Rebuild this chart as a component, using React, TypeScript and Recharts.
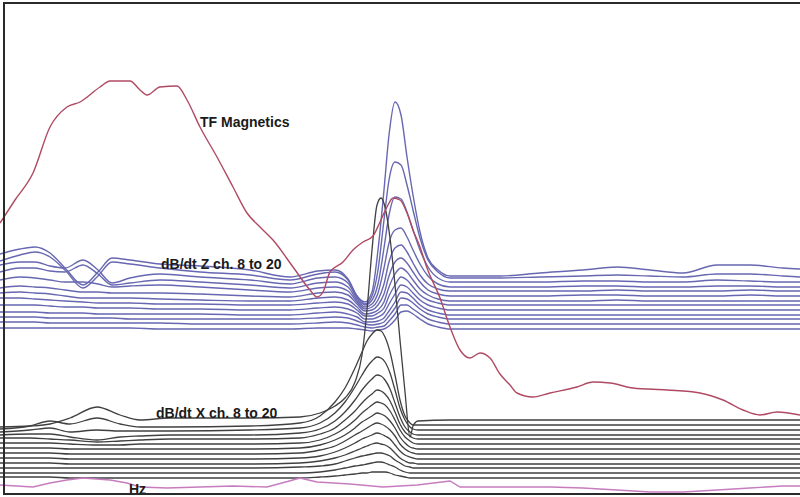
import React from "react";
import { LineChart, Line, XAxis, YAxis } from "recharts";

// profile stations (along-line position) used by the dB/dt Z channels
const zStations = [0, 20, 35, 50, 65, 83, 98, 112, 130, 160, 200, 250, 290, 318, 335, 348, 357, 365, 372, 378, 384, 389, 395, 401, 407, 413, 420, 428, 438, 450, 500, 540, 583, 617, 650, 683, 717, 750, 783, 800];

// dB/dt Z, channels 8 to 20 (stacked, display offset included)
const zCh8 = [243, 248, 250, 244, 229, 212, 225, 239, 237, 233, 231, 227, 220, 226, 227, 218, 201, 195, 205, 247, 307, 362, 395, 382, 340, 302, 265, 239, 227, 221, 221, 224, 227, 230, 227, 224, 232, 232, 229, 228];
const zCh9 = [236, 242, 245, 240, 227, 209, 221, 235, 233, 229, 225, 222, 217, 223, 225, 217, 201, 193, 201, 227, 277, 317, 335, 332, 312, 287, 259, 237, 225, 219, 219, 220, 221, 222, 221, 220, 223, 223, 221, 220];
const zCh10 = [232, 235, 235, 231, 229, 237, 227, 214, 219, 223, 220, 217, 213, 219, 220, 214, 199, 192, 197, 213, 249, 282, 300, 298, 285, 267, 247, 230, 219, 215, 215, 215, 216, 216, 215, 215, 217, 216, 215, 215];
const zCh11 = [225, 229, 229, 226, 225, 232, 223, 212, 214, 217, 215, 212, 209, 214, 215, 210, 197, 190, 193, 204, 229, 254, 267, 269, 260, 247, 233, 221, 213, 210, 210, 210, 211, 211, 210, 210, 211, 211, 210, 210];
const zCh12 = [217, 220, 219, 217, 215, 215, 213, 210, 211, 212, 210, 207, 205, 209, 210, 206, 195, 188, 190, 197, 213, 235, 249, 252, 245, 234, 222, 213, 208, 206, 206, 206, 206, 207, 206, 206, 206, 207, 206, 206];
const zCh13 = [209, 211, 210, 209, 207, 205, 205, 204, 204, 204, 203, 201, 200, 204, 205, 202, 193, 186, 187, 192, 203, 221, 235, 239, 234, 225, 215, 207, 203, 201, 201, 201, 202, 202, 201, 201, 201, 202, 201, 201];
const zCh14 = [204, 205, 204, 203, 201, 199, 199, 199, 199, 198, 197, 196, 196, 199, 200, 197, 190, 183, 184, 187, 195, 210, 223, 229, 225, 217, 208, 202, 198, 196, 196, 196, 196, 197, 196, 196, 196, 196, 196, 196];
const zCh15 = [199, 199, 198, 197, 196, 195, 194, 194, 194, 193, 193, 192, 192, 194, 195, 193, 187, 181, 181, 184, 189, 201, 212, 220, 217, 210, 202, 197, 194, 192, 192, 192, 192, 192, 192, 192, 192, 192, 192, 192];
const zCh16 = [192, 192, 192, 191, 190, 190, 189, 189, 189, 188, 188, 187, 187, 189, 190, 188, 184, 178, 178, 180, 184, 193, 203, 212, 210, 204, 197, 192, 189, 187, 187, 187, 187, 187, 187, 187, 187, 187, 187, 187];
const zCh17 = [185, 185, 185, 184, 184, 184, 183, 183, 183, 183, 183, 182, 182, 184, 185, 183, 180, 175, 175, 176, 179, 186, 195, 205, 204, 199, 192, 187, 184, 182, 182, 182, 182, 182, 182, 182, 182, 182, 182, 182];
const zCh18 = [180, 180, 180, 179, 179, 179, 179, 179, 178, 178, 178, 178, 178, 179, 180, 179, 176, 173, 172, 173, 175, 181, 189, 199, 198, 194, 188, 183, 180, 178, 178, 178, 178, 178, 178, 178, 178, 178, 178, 178];
const zCh19 = [175, 175, 175, 174, 174, 174, 174, 174, 174, 174, 173, 173, 173, 174, 175, 174, 172, 170, 169, 170, 171, 176, 183, 192, 192, 188, 183, 178, 175, 173, 173, 173, 173, 173, 173, 173, 173, 173, 173, 173];
const zCh20 = [169, 169, 169, 169, 169, 169, 169, 169, 169, 168, 168, 168, 168, 169, 169, 169, 168, 167, 166, 167, 168, 171, 177, 185, 186, 183, 178, 173, 170, 168, 168, 168, 168, 168, 168, 168, 168, 168, 168, 168];

// stations for the dB/dt X channels
const xStations = [0, 30, 50, 70, 97, 120, 140, 170, 250, 300, 320, 335, 345, 355, 362, 367, 372, 377, 381, 385, 390, 395, 400, 405, 410, 413, 418, 450, 550, 650, 800];

const xCh8 = [70, 71, 73, 79, 90, 82, 77, 79, 79, 80, 84, 91, 99, 115, 142, 187, 247, 292, 299, 290, 259, 212, 157, 105, 60, 71, 76, 77, 77, 77, 77];
const xCh9 = [68, 71, 76, 73, 79, 73, 70, 70, 71, 74, 81, 95, 109, 129, 145, 156, 163, 167, 166, 160, 145, 122, 97, 81, 74, 72, 72, 72, 72, 72, 72];
const xCh10 = [65, 67, 69, 65, 67, 66, 66, 66, 67, 69, 74, 84, 95, 110, 122, 130, 136, 140, 139, 135, 124, 107, 89, 77, 70, 68, 67, 67, 67, 67, 67];
const xCh11 = [62, 63, 63, 60, 57, 60, 61, 62, 62, 64, 68, 76, 85, 97, 107, 113, 118, 122, 121, 117, 108, 94, 80, 70, 65, 63, 62, 62, 62, 62, 62];
const xCh12 = [59, 59, 58, 57, 55, 56, 57, 58, 58, 59, 63, 69, 77, 86, 94, 99, 103, 107, 106, 103, 96, 85, 73, 65, 61, 59, 58, 58, 58, 58, 58];
const xCh13 = [54, 54, 54, 53, 52, 52, 53, 53, 53, 54, 57, 63, 69, 77, 84, 88, 92, 95, 94, 92, 86, 77, 67, 60, 56, 54, 53, 53, 53, 53, 53];
const xCh14 = [49, 49, 49, 48, 48, 48, 48, 48, 48, 49, 52, 57, 62, 69, 75, 78, 81, 84, 83, 81, 76, 69, 60, 54, 50, 49, 48, 48, 48, 48, 48];
const xCh15 = [44, 44, 44, 43, 43, 43, 43, 43, 43, 44, 47, 51, 56, 62, 66, 69, 72, 74, 73, 71, 67, 61, 53, 48, 45, 44, 43, 43, 43, 43, 43];
const xCh16 = [39, 39, 39, 38, 38, 38, 38, 38, 38, 39, 41, 45, 49, 54, 58, 60, 62, 64, 63, 61, 58, 52, 46, 42, 40, 39, 38, 38, 38, 38, 38];
const xCh17 = [34, 34, 34, 33, 33, 33, 33, 33, 33, 34, 36, 39, 42, 46, 49, 51, 53, 54, 53, 52, 49, 44, 39, 36, 34, 34, 33, 33, 33, 33, 33];
const xCh18 = [29, 29, 29, 29, 29, 29, 29, 29, 29, 30, 31, 33, 36, 39, 41, 42, 43, 44, 44, 43, 41, 37, 34, 31, 30, 29, 29, 29, 29, 29, 29];
const xCh19 = [24, 24, 24, 24, 24, 24, 24, 24, 24, 24, 25, 27, 29, 31, 32, 33, 34, 35, 35, 34, 32, 30, 27, 25, 24, 24, 24, 24, 24, 24, 24];
const xCh20 = [20, 20, 20, 19, 19, 19, 19, 19, 19, 19, 20, 21, 22, 23, 24, 24, 25, 25, 25, 25, 24, 22, 21, 20, 19, 19, 19, 19, 19, 19, 19];

// total field magnetics
const tfStations = [0, 15, 33, 50, 67, 80, 100, 110, 130, 140, 147, 160, 177, 187, 200, 217, 233, 247, 260, 273, 293, 310, 317, 323, 330, 343, 353, 363, 373, 380, 387, 393, 400, 407, 413, 420, 427, 440, 450, 460, 470, 480, 490, 500, 510, 517, 533, 550, 577, 593, 610, 633, 667, 700, 723, 743, 760, 777, 800];
const tfValues = [274, 297, 324, 370, 390, 395, 410, 416, 416, 407, 402, 410, 411, 397, 370, 340, 310, 284, 270, 257, 230, 207, 200, 205, 225, 235, 247, 255, 261, 275, 290, 299, 297, 284, 267, 250, 229, 199, 170, 147, 139, 144, 139, 123, 112, 104, 100, 104, 110, 115, 114, 109, 107, 104, 97, 87, 82, 85, 82];

// Hz (bottom trace)
const hzStations = [0, 33, 50, 67, 83, 110, 127, 140, 167, 200, 233, 267, 293, 300, 317, 350, 383, 417, 450, 460, 500, 550, 583, 617, 650, 683, 717, 750, 783, 800];
const hzValues = [12, 10, 14, 17, 19, 17, 14, 10, 9, 10, 11, 10, 17, 19, 15, 13, 10, 12, 16, 10, 10, 10, 9, 7, 5, 5, 7, 9, 11, 11];

const zChannels = [zCh8, zCh9, zCh10, zCh11, zCh12, zCh13, zCh14, zCh15, zCh16, zCh17, zCh18, zCh19, zCh20];
const xChannels = [xCh8, xCh9, xCh10, xCh11, xCh12, xCh13, xCh14, xCh15, xCh16, xCh17, xCh18, xCh19, xCh20];

const toPoints = (xs: number[], vs: number[]) => xs.map((x, i) => ({ x, v: vs[i] }));

const zSeries = zChannels.map((vals, i) => ({ name: `Z ch. ${8 + i}`, points: toPoints(zStations, vals) }));
const xSeries = xChannels.map((vals, i) => ({ name: `X ch. ${8 + i}`, points: toPoints(xStations, vals) }));
const tfPoints = toPoints(tfStations, tfValues);
const hzPoints = toPoints(hzStations, hzValues);

const labelStyle: React.CSSProperties = {
  position: "absolute",
  fontFamily: "'Liberation Sans', Arial, sans-serif",
  fontWeight: "bold",
  fontSize: 14,
  lineHeight: "14px",
  color: "#1a1a1a",
  whiteSpace: "nowrap",
};

export default function App() {
  return (
    <div style={{ position: "absolute", left: 0, top: 0, width: 800, height: 497, background: "#fff", overflow: "hidden" }}>
      <LineChart width={800} height={497} margin={{ top: 0, right: 0, bottom: 0, left: 0 }}>
        <XAxis type="number" dataKey="x" domain={[0, 800]} hide allowDataOverflow />
        <YAxis type="number" domain={[0, 497]} hide allowDataOverflow />
        {zSeries.map((s) => (
          <Line
            key={s.name}
            name={s.name}
            data={s.points}
            dataKey="v"
            type="monotone"
            stroke="#6767b2"
            strokeWidth={1.4}
            dot={false}
            activeDot={false}
            isAnimationActive={false}
          />
        ))}
        {xSeries.map((s) => (
          <Line
            key={s.name}
            name={s.name}
            data={s.points}
            dataKey="v"
            type="monotone"
            stroke="#404040"
            strokeWidth={1.3}
            dot={false}
            activeDot={false}
            isAnimationActive={false}
          />
        ))}
        <Line name="Hz" data={hzPoints} dataKey="v" type="linear" stroke="#c67cbf" strokeWidth={1.4} dot={false} activeDot={false} isAnimationActive={false} />
        <Line name="TF Magnetics" data={tfPoints} dataKey="v" type="monotone" stroke="#b04a62" strokeWidth={1.4} dot={false} activeDot={false} isAnimationActive={false} />
      </LineChart>
      <div style={{ ...labelStyle, left: 200, top: 115 }}>TF Magnetics</div>
      <div style={{ ...labelStyle, left: 161, top: 257 }}>dB/dt Z ch. 8 to 20</div>
      <div style={{ ...labelStyle, left: 156, top: 406 }}>dB/dt X ch. 8 to 20</div>
      <div style={{ ...labelStyle, left: 129, top: 482 }}>Hz</div>
      <div
        style={{
          position: "absolute",
          left: 3,
          top: 2,
          width: 810,
          height: 493,
          boxSizing: "border-box",
          border: "2px solid #2a2a2a",
          pointerEvents: "none",
        }}
      />
    </div>
  );
}
